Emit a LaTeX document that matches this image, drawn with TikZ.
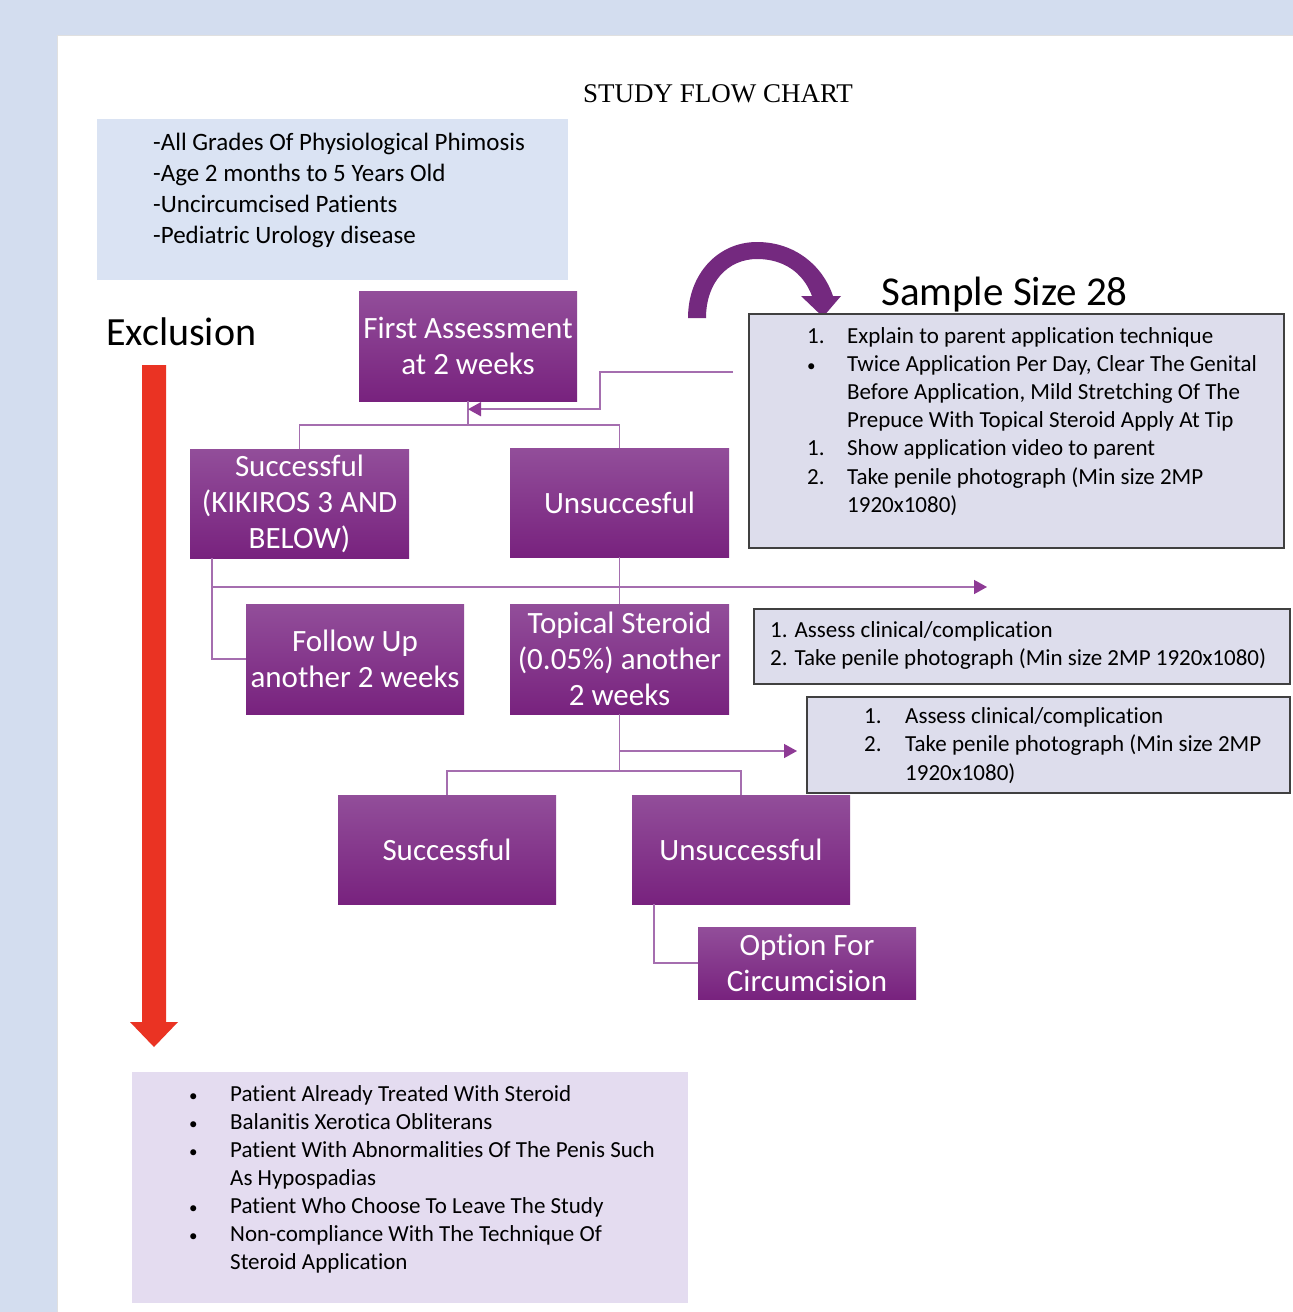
\documentclass[tikz,border=0pt]{standalone}
\usepackage{fontspec}
\setmainfont{Carlito}[Ligatures=NoCommon]
\newfontfamily\titlefont{Liberation Serif}
\usetikzlibrary{arrows.meta,calc}
\definecolor{bgblue}{RGB}{211,221,239}
\definecolor{inclfill}{RGB}{218,227,243}
\definecolor{exclfill}{RGB}{228,220,240}
\definecolor{notefill}{RGB}{221,221,236}
\definecolor{ptop}{RGB}{146,78,154}
\definecolor{pbot}{RGB}{120,34,126}
\definecolor{connc}{RGB}{165,110,175}
\definecolor{arrc}{RGB}{142,58,149}
\definecolor{arcc}{RGB}{116,41,127}
\definecolor{exred}{RGB}{234,51,35}
\newcommand{\smbul}{{\fontsize{17}{17}\selectfont\textbullet}}
\tikzset{
  pbox/.style={rectangle, inner sep=0pt, minimum width=218pt, minimum height=110pt,
    top color=ptop, bottom color=pbot, draw=none, text=white, align=center,
    font=\fontsize{31}{36}\selectfont},
  conn/.style={draw=connc, line width=1.5pt},
  arr/.style={-{Triangle[length=13pt,width=14pt,fill=arrc,color=arrc]}},
  notebox/.style={draw=black!75, line width=1.8pt, fill=notefill},
  txt/.style={inner sep=0pt, anchor=base west, align=left}
}
\begin{document}
\begin{tikzpicture}[x=1pt,y=-1pt]
\useasboundingbox (0,0) rectangle (1293,1312);
\fill[bgblue] (0,0) rectangle (1293,1312);
\fill[black!12] (57,35) rectangle (1293,1312);
\fill[white] (58,36) rectangle (1293,1312);

% title
\node[inner sep=0pt, font=\titlefont\fontsize{27}{30}\selectfont] (title) at (718,94) {STUDY FLOW CHART};

% inclusion box
\fill[inclfill] (97,119) rectangle (568,280);
\node[txt, font=\fontsize{25}{31}\selectfont] (incl) at (153,150) {\begin{tabular}[t]{@{}l@{}}
-All Grades Of Physiological Phimosis\\
-Age 2 months to 5 Years Old\\
-Uncircumcised Patients\\
-Pediatric Urology disease
\end{tabular}};

% purple boxes
\node[pbox] (fa) at (468,346) {First Assessment\\at 2 weeks};
\node[pbox, minimum width=219pt, minimum height=109pt] (s1) at (299.5,503.5) {Successful\\(KIKIROS 3 AND\\BELOW)};
\node[pbox, minimum width=219pt, minimum height=109pt] (u1) at (619.5,502.5) {Unsuccesful};
\node[pbox] (fu) at (355,659) {Follow Up\\another 2 weeks};
\node[pbox, minimum width=219pt] (ts) at (619.5,659) {Topical Steroid\\(0.05\%) another\\2 weeks};
\node[pbox, minimum height=109pt] (s2) at (447,849.5) {Successful};
\node[pbox, minimum height=109pt] (u2) at (741,849.5) {Unsuccessful};
\node[pbox, minimum height=72pt] (op) at (807,963) {Option For\\Circumcision};

% connectors
\draw[conn] (fa.south) -- ++(0,24) coordinate (j1);
\draw[conn] (s1.north) |- (j1) -| (u1.north);
\coordinate (sa) at (733,372);
\draw[conn,arr] (sa) -- ++(-133,0) |- ([yshift=-8pt]fa.south);
\coordinate (s1b) at ($(s1.south west)+(22,0)$);
\draw[conn] (s1b) |- (fu.west);
\coordinate (e1) at (987,587);
\draw[conn,arr] (s1b |- e1) -- (e1);
\draw[conn] (u1.south) -- (ts.north);
\draw[conn] (ts.south) -- ++(0,57) coordinate (j2);
\draw[conn] (s2.north) |- (j2) -| (u2.north);
\coordinate (e2) at (797,751);
\draw[conn,arr] (ts.south |- e2) -- (e2);
\draw[conn] ($(u2.south west)+(22,0)$) |- (op.west);

% sample size
\node[inner sep=0pt, anchor=base west, font=\fontsize{41}{46}\selectfont] (ss) at (881,305) {Sample Size 28};
\fill[arcc] (688,318) .. controls (688,274) and (718,242) .. (757,242)
  .. controls (795,242) and (823,266) .. (833,296) -- (841,296) -- (823,317) -- (801,296) -- (812,296)
  .. controls (803,272) and (783,259) .. (757,259)
  .. controls (728,259) and (706,282) .. (706,318) -- cycle;

\node[notebox, inner sep=0pt, minimum width=535pt, minimum height=234pt] (sb) at (1016.5,431) {};
\node[txt, font=\fontsize{23}{28.2}\selectfont] (sbt) at (807,343) {\begin{tabular}[t]{@{}p{40pt}@{}l@{}}
1. & Explain to parent application technique\\
\smbul & Twice Application Per Day, Clear The Genital\\
 & Before Application, Mild Stretching Of The\\
 & Prepuce With Topical Steroid Apply At Tip\\
1. & Show application video to parent\\
2. & Take penile photograph (Min size 2MP\\
 & 1920x1080)
\end{tabular}};

\node[notebox, inner sep=0pt, minimum width=536pt, minimum height=75pt] (b2) at (1022,646.5) {};
\node[txt, font=\fontsize{23}{28}\selectfont] (b2t) at (770,637) {\begin{tabular}[t]{@{}l@{}}
1. Assess clinical/complication\\
2. Take penile photograph (Min size 2MP 1920x1080)
\end{tabular}};

\node[notebox, inner sep=0pt, minimum width=483pt, minimum height=96pt] (b3) at (1048.5,745) {};
\node[txt, font=\fontsize{23}{28.5}\selectfont] (b3t) at (864,723) {\begin{tabular}[t]{@{}p{41pt}@{}l@{}}
1. & Assess clinical/complication\\
2. & Take penile photograph (Min size 2MP\\
 & 1920x1080)
\end{tabular}};

% exclusion
\node[inner sep=0pt, anchor=base west, font=\fontsize{40}{44}\selectfont] (ex) at (106,345) {Exclusion};
\fill[exred] (142,365) -- (166,365) -- (166,1022) -- (178,1022) -- (154,1047) -- (130,1022) -- (142,1022) -- cycle;

\fill[exclfill] (132,1072) rectangle (688,1303);
\node[txt, font=\fontsize{23}{28}\selectfont] (exl) at (189,1101) {\begin{tabular}[t]{@{}p{41pt}@{}l@{}}
\smbul & Patient Already Treated With Steroid\\
\smbul & Balanitis Xerotica Obliterans\\
\smbul & Patient With Abnormalities Of The Penis Such\\
 & As Hypospadias\\
\smbul & Patient Who Choose To Leave The Study\\
\smbul & Non-compliance With The Technique Of\\
 & Steroid Application
\end{tabular}};
\end{tikzpicture}
\end{document}
